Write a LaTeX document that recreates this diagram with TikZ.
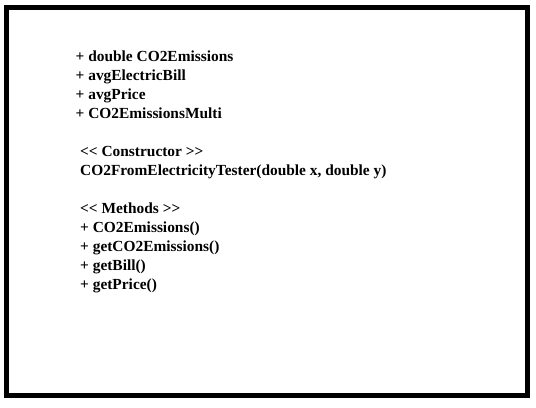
\documentclass[tikz,border=0pt]{standalone}
\usepackage{fontspec}
\setmainfont{Liberation Serif}
\usetikzlibrary{positioning}

\begin{document}
\begin{tikzpicture}[x=1bp,y=-1bp]

    \tikzset{frame/.style={draw,rectangle,line width=5bp,inner sep=0pt,minimum width=521bp,minimum height=388bp},
             member/.style={anchor=base west,inner sep=0pt,font=\fontsize{15.4bp}{19bp}\selectfont\bfseries},
             nextline/.style={below=19bp of #1.base west,anchor=base west}}
    \useasboundingbox (0,0) rectangle (536,407);
    \node[frame] (classbox) at (267,201.5) {};

    % attributes
    \node[member] (attr1) at (75.5,61.7) {+ double CO2Emissions};
    \node[member,nextline=attr1] (attr2) {+ avgElectricBill};
    \node[member,nextline=attr2] (attr3) {+ avgPrice};
    \node[member,nextline=attr3] (attr4) {+ CO2EmissionsMulti};

    % constructor
    \node[member] (ctorhead) at (80,156.7) {<\kern0pt< Constructor >\kern0pt>};
    \node[member,nextline=ctorhead] (ctor) {CO2FromElectricityTester(double x, double y)};

    % methods
    \node[member] (methhead) at (80,213.7) {<\kern0pt< Methods >\kern0pt>};
    \node[member,nextline=methhead] (meth1) {+ CO2Emissions()};
    \node[member,nextline=meth1] (meth2) {+ getCO2Emissions()};
    \node[member,nextline=meth2] (meth3) {+ getBill()};
    \node[member,nextline=meth3] (meth4) {+ getPrice()};
\end{tikzpicture}
\end{document}
